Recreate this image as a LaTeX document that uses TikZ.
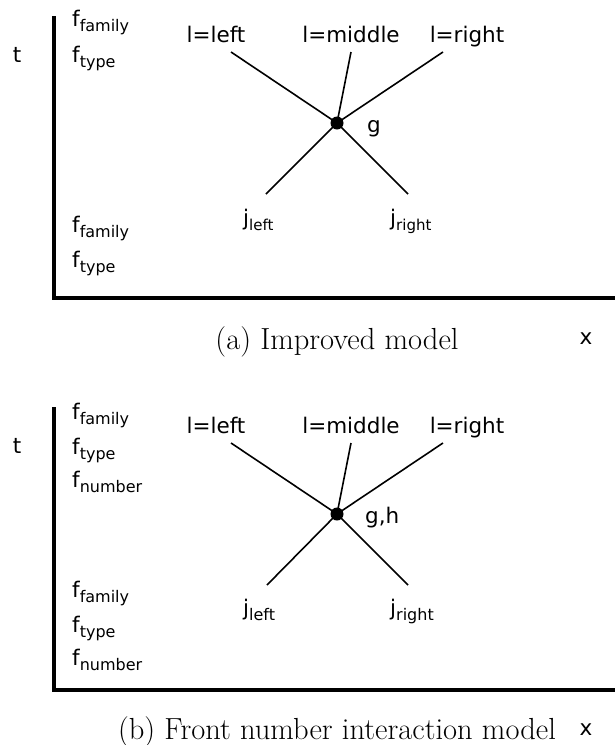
\documentclass[tikz,border=0pt]{standalone}
\usepackage{fontspec}
\newfontfamily\lblfont{DejaVu Sans}
\usetikzlibrary{positioning}
\newcommand{\fsub}[3][16]{#2\raisebox{-0.25em}{\fontsize{#1}{#1}\selectfont #3}}

\begin{document}
\begin{tikzpicture}[x=1pt, y=-1pt,
    lbl/.style={font=\lblfont\fontsize{21.5}{24}\selectfont, inner sep=0pt},
    feat/.style={lbl, anchor=base west},
    axisline/.style={line width=3.3pt},
    edge/.style={line width=1.6pt},
    junction/.style={circle, fill=black, inner sep=0pt, minimum size=13pt},
    capt/.style={font=\fontsize{30.5}{34}\selectfont, anchor=base, inner sep=0pt}
]
    \useasboundingbox (0,0) rectangle (615,745);

    % (a) Improved model
    \coordinate (a-top) at (54,16);
    \coordinate (a-origin) at (54,298);
    \coordinate (a-end) at (617,298);
    \draw[axisline] (a-top) -- (a-origin) -- (a-end);
    \node[lbl] (a-t) at (17,55) {t};

    \node[feat] (a-fam1) at (72,26) {\fsub{f}{family}};
    \node[feat] (a-type1) at (72,62) {\fsub{f}{type}};
    \node[feat] (a-fam2) at (72,232) {\fsub{f}{family}};
    \node[feat] (a-type2) at (72,267) {\fsub{f}{type}};

    \node[lbl, anchor=base] (a-left) at (216,42) {l=left};
    \node[lbl, anchor=base] (a-mid) at (351,42) {l=middle};
    \node[lbl, anchor=base] (a-right) at (467,42) {l=right};
    \node[feat] (a-jl) at (243,225) {\fsub[15]{j}{left}};
    \node[feat] (a-jr) at (390,225) {\fsub[15]{j}{right}};

    \node[junction] (a-g) at (337,123) {};
    \node[feat] (a-glbl) at (367,132) {g};

    \coordinate (a-left-end) at (231,52);
    \coordinate (a-mid-end) at (351,52);
    \coordinate (a-right-end) at (443,52);
    \coordinate (a-jl-end) at (266,194);
    \coordinate (a-jr-end) at (408,194);
    \draw[edge] (a-left-end) -- (a-g.center);
    \draw[edge] (a-mid-end) -- (a-g.center);
    \draw[edge] (a-right-end) -- (a-g.center);
    \draw[edge] (a-jl-end) -- (a-g.center);
    \draw[edge] (a-jr-end) -- (a-g.center);

    \node[capt] (a-cap) at (337,349) {(a) Improved model};
    \node[lbl, anchor=base] (a-x) at (586,344) {x};

    % (b) Front number interaction model
    \coordinate (b-top) at (54,407);
    \coordinate (b-origin) at (54,690);
    \coordinate (b-end) at (617,690);
    \draw[axisline] (b-top) -- (b-origin) -- (b-end);
    \node[lbl] (b-t) at (17,446) {t};

    \node[feat] (b-fam1) at (72,419) {\fsub{f}{family}};
    \node[feat] (b-type1) at (72,454) {\fsub{f}{type}};
    \node[feat] (b-num1) at (72,487) {\fsub{f}{number}};
    \node[feat] (b-fam2) at (72,597) {\fsub{f}{family}};
    \node[feat] (b-type2) at (72,632) {\fsub{f}{type}};
    \node[feat] (b-num2) at (72,665) {\fsub{f}{number}};

    \node[lbl, anchor=base] (b-left) at (216,433) {l=left};
    \node[lbl, anchor=base] (b-mid) at (351,433) {l=middle};
    \node[lbl, anchor=base] (b-right) at (467,433) {l=right};
    \node[feat] (b-jl) at (243,615) {\fsub{j}{left}};
    \node[feat] (b-jr) at (390,615) {\fsub{j}{right}};

    \node[junction] (b-g) at (337,514) {};
    \node[feat] (b-glbl) at (365,523) {g,h};

    \coordinate (b-left-end) at (231,443);
    \coordinate (b-mid-end) at (351,443);
    \coordinate (b-right-end) at (443,443);
    \coordinate (b-jl-end) at (267,585);
    \coordinate (b-jr-end) at (408,585);
    \draw[edge] (b-left-end) -- (b-g.center);
    \draw[edge] (b-mid-end) -- (b-g.center);
    \draw[edge] (b-right-end) -- (b-g.center);
    \draw[edge] (b-jl-end) -- (b-g.center);
    \draw[edge] (b-jr-end) -- (b-g.center);

    \node[capt] (b-cap) at (337,739) {(b) Front number interaction model};
    \node[lbl, anchor=base] (b-x) at (586,735) {x};
\end{tikzpicture}
\end{document}
